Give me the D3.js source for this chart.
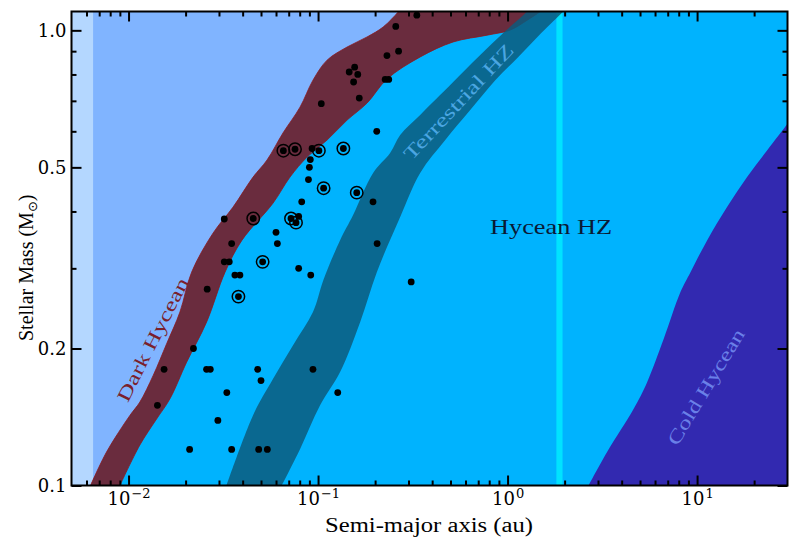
<!DOCTYPE html>
<html><head><meta charset="utf-8">
<script src="https://cdn.jsdelivr.net/npm/d3@7"></script>
<style>body{margin:0;background:#fff}</style>
</head><body>
<svg id="c" width="800" height="544"></svg>
<script>
// ---------- data ----------
const xDomain = [0.005, 30];
const yDomain = [0.1, 1.1];
const xMajorTicks = [0.01, 0.1, 1, 10];
const xMinorTicks = [0.006,0.007,0.008,0.009,0.02,0.03,0.04,0.05,0.06,0.07,0.08,0.09,0.2,0.3,0.4,0.5,0.6,0.7,0.8,0.9,2,3,4,5,6,7,8,9,20];
const xTickExp = ["−2","−1","0","1"];
const yMajorTicks = [0.1, 0.2, 0.5, 1.0];
const yMinorTicks = [0.3,0.4,0.6,0.7,0.8,0.9];
const yTickLabels = ["0.1","0.2","0.5","1.0"];

// [semi-major axis (au), stellar mass (Msun)]
const hotStrip = [0.005, 0.0065];
const darkHotEdge = [[0.0063,0.1],[0.00765,0.1184],[0.01016,0.1425],[0.01147,0.1525],[0.01349,0.1745],[0.01588,0.2048],[0.01866,0.2404],[0.02152,0.2943],[0.0279,0.3584],[0.0356,0.409],[0.0454,0.476],[0.0538,0.519],[0.0653,0.595],[0.0803,0.678],[0.094,0.777],[0.1116,0.86],[0.1423,0.919],[0.1813,0.967],[0.2205,1.017],[0.2646,1.097],[0.28,1.13]];
const hyceanInnerEdge = [[0.009,0.1],[0.01147,0.1227],[0.01406,0.14],[0.01653,0.155],[0.02025,0.1866],[0.0258,0.2285],[0.0323,0.2943],[0.0397,0.346],[0.0578,0.417],[0.0711,0.476],[0.0875,0.5266],[0.1116,0.574],[0.1423,0.635],[0.1813,0.692],[0.2314,0.782],[0.3458,0.874],[0.5166,0.943],[0.781,0.976],[1.033,1.0015],[1.27,1.053],[1.488,1.1],[1.6,1.13]];
const terrInnerEdge = [[0.0329,0.1],[0.0454,0.1427],[0.0578,0.1713],[0.0738,0.2034],[0.094,0.2404],[0.1067,0.2827],[0.1307,0.346],[0.1531,0.393],[0.1952,0.486],[0.240,0.5375],[0.2712,0.589],[0.3458,0.652],[0.5103,0.766],[0.700,0.874],[0.949,0.9865],[1.27,1.1],[1.35,1.13]];
const terrOuterEdge = [[0.0643,0.1],[0.0803,0.1202],[0.1025,0.15],[0.1307,0.1775],[0.1667,0.2285],[0.2042,0.2943],[0.2712,0.389],[0.3458,0.486],[0.469,0.574],[0.635,0.668],[0.861,0.777],[1.139,0.874],[1.506,0.9865],[1.969,1.1],[2.1,1.13]];
const coldEdge = [[2.679,0.1],[3.35,0.1184],[4.63,0.1474],[5.45,0.1687],[6.67,0.21],[8.17,0.266],[9.23,0.2943],[11.31,0.346],[14.42,0.4096],[18.4,0.4768],[23.5,0.546],[30.2,0.626],[33,0.66]];
const snowLine = [1.81, 1.95];

const planetA = [0.257,0.332,0.266,0.231,0.226,0.236,0.146,0.156,0.162,0.154,0.165,0.104,0.204,0.093,0.091,0.090,0.089,0.082,0.195,0.032,0.079,0.035,0.060,0.061,0.205,0.032,0.034,0.079,0.0364,0.0387,0.0915,0.026,0.022,0.0154,0.0258,0.027,0.048,0.050,0.094,0.033,0.127,0.0142,0.0296,0.021,0.035,0.0486,0.054,0.31];
const planetM = [1.02,1.08,0.90,0.88,0.78,0.78,0.81,0.83,0.80,0.77,0.71,0.69,0.60,0.55,0.52,0.50,0.47,0.42,0.42,0.385,0.39,0.34,0.36,0.34,0.34,0.31,0.31,0.30,0.29,0.29,0.29,0.27,0.20,0.18,0.18,0.18,0.18,0.17,0.18,0.16,0.16,0.15,0.139,0.12,0.12,0.12,0.12,0.28];
const ringA = [0.0656,0.0756,0.101,0.136,0.107,0.160,0.0455,0.072,0.0765,0.051,0.038];
const ringM = [0.544,0.548,0.544,0.550,0.45,0.44,0.386,0.386,0.378,0.31,0.26];

const regionLabels = ["Dark Hycean","Terrestrial HZ","Hycean HZ","Cold Hycean"];

// ---------- layout ----------
const L = 71.5, R = 787.5, T = 11.5, B = 485.5;
const svg = d3.select("#c");
const x = d3.scaleLog().domain(xDomain).range([L, R]);
const y = d3.scaleLog().domain(yDomain).range([B, T]);

svg.append("defs").append("clipPath").attr("id","clip")
  .append("rect").attr("x",L).attr("y",T).attr("width",R-L).attr("height",B-T);
const g = svg.append("g").attr("clip-path","url(#clip)");

g.append("rect").attr("x",L).attr("y",T).attr("width",R-L).attr("height",B-T).attr("fill","#80b4ff");
g.append("rect").attr("x",x(hotStrip[0])-2).attr("y",T).attr("width",x(hotStrip[1])-x(hotStrip[0])+2).attr("height",B-T).attr("fill","#b4d7ff");

const areaRight = d3.area().y(d=>y(d[1])).x0(d=>x(d[0])).x1(R+20).curve(d3.curveCatmullRom);
const edgeLine = d3.line().x(d=>x(d[0])).y(d=>y(d[1])).curve(d3.curveCatmullRom);

g.append("path").attr("d", areaRight(darkHotEdge)).attr("fill","#6a2c3e");
g.append("path").attr("d", areaRight(hyceanInnerEdge)).attr("fill","#00b3fe");
g.append("path").attr("d", edgeLine(darkHotEdge)).attr("fill","none").attr("stroke","#8b1a20").attr("stroke-width",0.8);
g.append("path").attr("d", edgeLine(hyceanInnerEdge)).attr("fill","none").attr("stroke","#8b1a20").attr("stroke-width",0.8);
g.append("path").attr("d", areaRight(coldEdge)).attr("fill","#3229b0");
g.append("rect").attr("x",x(snowLine[0])).attr("y",T).attr("width",x(snowLine[1])-x(snowLine[0])).attr("height",B-T).attr("fill","#00e3ff");

const bandPath = edgeLine(terrInnerEdge) + "L" + edgeLine(terrOuterEdge.slice().reverse()).slice(1) + "Z";
g.append("path").attr("d", bandPath).attr("fill","rgb(12,91,125)").attr("fill-opacity",0.85);

// region labels
const labelFont = "'Liberation Serif', 'Times New Roman', serif";
function rotLabel(txt, cx, cy, ang, len, size, color){
  svg.append("text").attr("transform",`translate(${cx},${cy}) rotate(${ang})`)
    .attr("text-anchor","middle").attr("dy","0.35em")
    .attr("font-family",labelFont).attr("font-size",size).attr("fill",color)
    .attr("textLength",len).attr("lengthAdjust","spacingAndGlyphs").text(txt);
}
rotLabel(regionLabels[0], 152.5, 339.5, -63.1, 136, 19, "#7a1f2c");
rotLabel(regionLabels[1], 458.3, 101.7, -46.8, 151, 19, "#4aa6e2");
rotLabel(regionLabels[3], 705.8, 386.7, -58.9, 132, 19, "#6a80e8");
svg.append("text").attr("x",490).attr("y",233.5).attr("font-family",labelFont).attr("font-size",22)
  .attr("fill","#0a1a35").attr("textLength",122).attr("lengthAdjust","spacingAndGlyphs").text(regionLabels[2]);

// planets
const pts = planetA.map((a,i)=>[a, planetM[i]]);
svg.append("g").selectAll("circle").data(pts).join("circle")
  .attr("cx",d=>x(d[0])).attr("cy",d=>y(d[1])).attr("r",3.4).attr("fill","#000");
const rings = ringA.map((a,i)=>[a, ringM[i]]);
const rg = svg.append("g");
rg.selectAll("circle.d").data(rings).join("circle").attr("class","d")
  .attr("cx",d=>x(d[0])).attr("cy",d=>y(d[1])).attr("r",3.4).attr("fill","#000");
rg.selectAll("circle.r").data(rings).join("circle").attr("class","r")
  .attr("cx",d=>x(d[0])).attr("cy",d=>y(d[1])).attr("r",6.2).attr("fill","none").attr("stroke","#000").attr("stroke-width",1.5);

// axes
const tickFont = "'DejaVu Serif', serif";
function styleAxis(sel){
  sel.select(".domain").remove();
  sel.selectAll(".tick line").attr("stroke","#000").attr("stroke-width",2);
  sel.selectAll("text").attr("font-family",tickFont).attr("font-size",18).attr("fill","#000");
}
const MAJ = 10, MIN = 5;
const xb = svg.append("g").attr("transform",`translate(0,${B})`)
  .call(d3.axisBottom(x).tickValues(xMajorTicks).tickSize(-MAJ).tickPadding(7).tickFormat(""));
styleAxis(xb);
xb.selectAll(".tick text").each(function(d,i){
  const t = d3.select(this).attr("dy","0.71em").attr("font-size",18);
  t.append("tspan").text("10");
  t.append("tspan").attr("font-size",13).attr("dy","-0.55em").attr("dx","1").text(xTickExp[i]);
});
svg.append("g").attr("transform",`translate(0,${B})`)
  .call(d3.axisBottom(x).tickValues(xMinorTicks).tickSize(-MIN).tickFormat("")).call(styleAxis);
svg.append("g").attr("transform",`translate(0,${T})`)
  .call(d3.axisTop(x).tickValues(xMajorTicks).tickSize(-MAJ).tickFormat("")).call(styleAxis);
svg.append("g").attr("transform",`translate(0,${T})`)
  .call(d3.axisTop(x).tickValues(xMinorTicks).tickSize(-MIN).tickFormat("")).call(styleAxis);

svg.append("g").attr("transform",`translate(${L},0)`)
  .call(d3.axisLeft(y).tickValues(yMajorTicks).tickSize(-MAJ).tickPadding(5).tickFormat((d,i)=>yTickLabels[i])).call(styleAxis);
svg.append("g").attr("transform",`translate(${L},0)`)
  .call(d3.axisLeft(y).tickValues(yMinorTicks).tickSize(-MIN).tickFormat("")).call(styleAxis);
svg.append("g").attr("transform",`translate(${R},0)`)
  .call(d3.axisRight(y).tickValues(yMajorTicks).tickSize(-MAJ).tickFormat("")).call(styleAxis);
svg.append("g").attr("transform",`translate(${R},0)`)
  .call(d3.axisRight(y).tickValues(yMinorTicks).tickSize(-MIN).tickFormat("")).call(styleAxis);

svg.append("rect").attr("x",L).attr("y",T).attr("width",R-L).attr("height",B-T)
  .attr("fill","none").attr("stroke","#000").attr("stroke-width",2);

// axis titles
svg.append("text").attr("x",325).attr("y",532).attr("font-family",labelFont).attr("font-size",20)
  .attr("fill","#000").attr("textLength",208).attr("lengthAdjust","spacingAndGlyphs").text("Semi-major axis (au)");
const yl = svg.append("text").attr("transform","translate(33,341) rotate(-90)")
  .attr("font-family",labelFont).attr("font-size",20).attr("fill","#000");
yl.append("tspan").text("Stellar Mass (M");
yl.append("tspan").attr("font-size",13).attr("dy","4").attr("font-family","'DejaVu Sans', sans-serif").text("⊙");
yl.append("tspan").attr("dy","-4").text(")");
</script>
</body></html>
